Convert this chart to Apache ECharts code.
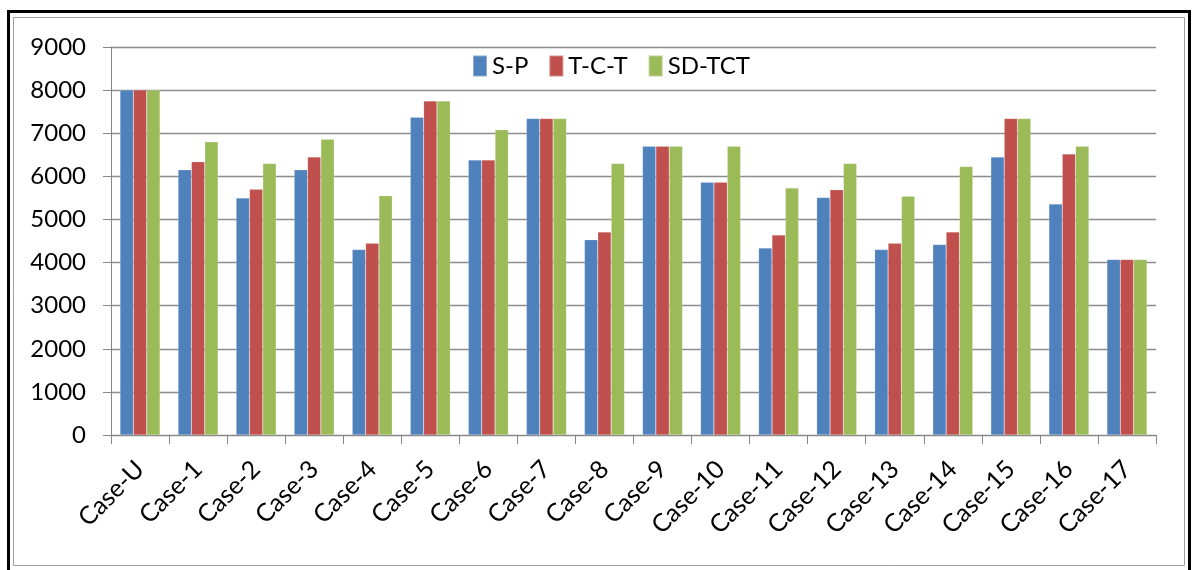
<!DOCTYPE html>
<html><head><meta charset="utf-8">
<script src="https://cdn.jsdelivr.net/npm/echarts@6/dist/echarts.min.js"></script>
<style>html,body{margin:0;padding:0;background:#fff}#c{width:1195px;height:570px}</style>
</head><body><div id="c"></div>
<script>
const categories = ['Case-U','Case-1','Case-2','Case-3','Case-4','Case-5','Case-6','Case-7','Case-8','Case-9','Case-10','Case-11','Case-12','Case-13','Case-14','Case-15','Case-16','Case-17'];
const spValues   = [8000,6150,5500,6150,4300,7370,6380,7340,4530,6700,5860,4340,5510,4300,4420,6450,5360,4070];
const tctValues  = [8000,6340,5700,6450,4450,7750,6380,7340,4710,6700,5860,4640,5690,4450,4710,7340,6520,4070];
const sdtctValues= [8000,6800,6300,6860,5550,7750,7080,7340,6300,6700,6700,5730,6300,5540,6230,7340,6700,4070];
const seriesNames = ['S-P','T-C-T','SD-TCT'];
const colors = ['#4F81BD','#C0504D','#9BBB59'];
const font = 'Lato, "Open Sans", sans-serif';
const chart = echarts.init(document.getElementById('c'), null, {renderer:'canvas'});
const mk = (name, data, color) => ({
  name, type:'bar', data, barGap:'0%', barCategoryGap:'31%',
  itemStyle:{color, borderColor:'rgba(255,255,255,0.35)', borderWidth:0.5},
  animation:false
});
chart.setOption({
  animation:false,
  color: colors,
  graphic:[
    {type:'rect', shape:{x:8.5,y:11.5,width:1181,height:570}, style:{fill:'none',stroke:'#000',lineWidth:3}},
    {type:'rect', shape:{x:13.5,y:17.5,width:1171,height:548}, style:{fill:'none',stroke:'#a0a0a0',lineWidth:1}}
  ],
  legend:{
    data: seriesNames, top:49, left:467,
    itemWidth:14, itemHeight:21, itemGap:20, icon:'rect',
    textStyle:{fontFamily:font, fontSize:24, color:'#000'}
  },
  grid:{left:111, right:39, top:47, bottom:135, containLabel:false},
  xAxis:{
    type:'category', data: categories,
    axisLine:{lineStyle:{color:'#868686', width:1}},
    axisTick:{show:true, length:9, alignWithLabel:false, lineStyle:{color:'#868686'}},
    axisLabel:{rotate:45, fontFamily:font, fontSize:25, color:'#000', margin:30, interval:0}
  },
  yAxis:{
    type:'value', min:0, max:9000, interval:1000,
    axisLine:{show:true, lineStyle:{color:'#868686'}},
    axisTick:{show:true, length:8, inside:false, lineStyle:{color:'#868686'}},
    splitLine:{lineStyle:{color:'#8c8c8c', width:1.3}},
    axisLabel:{fontFamily:font, fontSize:24, color:'#000', margin:25, formatter: v => String(v)}
  },
  series:[mk(seriesNames[0], spValues, colors[0]), mk(seriesNames[1], tctValues, colors[1]), mk(seriesNames[2], sdtctValues, colors[2])]
});
</script></body></html>
